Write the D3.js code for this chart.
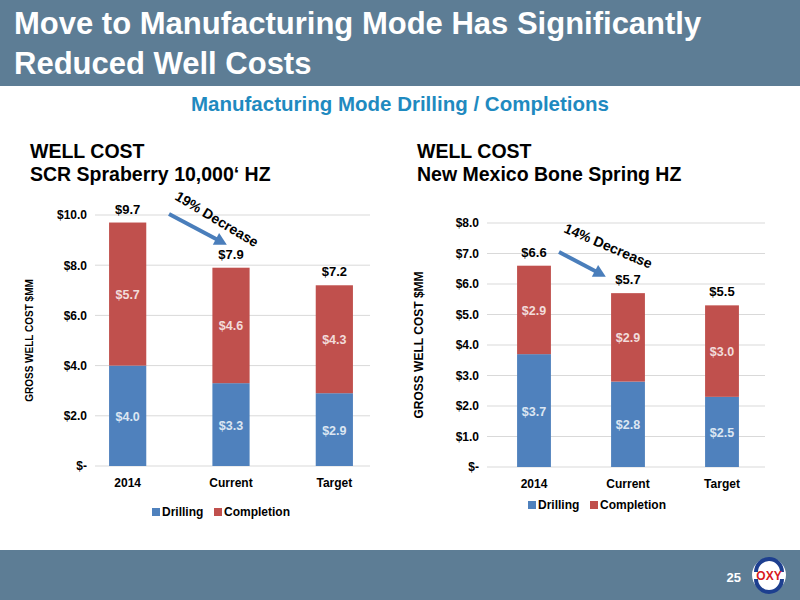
<!DOCTYPE html><html><head><meta charset="utf-8"><script src="https://cdn.jsdelivr.net/npm/d3@7"></script>
<style>body{margin:0}svg{font-family:"Liberation Sans",Arial,sans-serif}</style></head><body><svg id="c" width="800" height="600"></svg>
<script>
const categories=["2014","Current","Target"];
const leftDrilling=[4.0,3.3,2.9], leftCompletion=[5.7,4.6,4.3], leftTotals=["$9.7","$7.9","$7.2"];
const leftDrillLabels=["$4.0","$3.3","$2.9"], leftCompLabels=["$5.7","$4.6","$4.3"];
const rightDrilling=[3.7,2.8,2.3], rightCompletion=[2.9,2.9,3.0], rightTotals=["$6.6","$5.7","$5.5"];
const rightDrillLabels=["$3.7","$2.8","$2.5"], rightCompLabels=["$2.9","$2.9","$3.0"];
const leftTicks=[0,2,4,6,8,10], rightTicks=[0,1,2,3,4,5,6,7,8];
const BLUE="#4f81bd", RED="#c0504d";
const svg=d3.select("#c");
svg.append("rect").attr("width",800).attr("height",600).attr("fill","#fff");
svg.append("rect").attr("width",800).attr("height",86).attr("fill","#5d7d95");
svg.append("rect").attr("y",550).attr("width",800).attr("height",50).attr("fill","#5d7d95");
svg.append("text").attr("x",14).attr("y",34).attr("fill","#fff").attr("font-size",31).attr("font-weight","bold").text("Move to Manufacturing Mode Has Significantly");
svg.append("text").attr("x",14).attr("y",74).attr("fill","#fff").attr("font-size",31).attr("font-weight","bold").text("Reduced Well Costs");
svg.append("text").attr("x",400).attr("y",111).attr("text-anchor","middle").attr("fill","#1f8ac0").attr("font-size",20.5).attr("font-weight","bold").text("Manufacturing Mode Drilling / Completions");
svg.append("text").attr("x",741).attr("y",582).attr("fill","#fff").attr("font-size",13).attr("font-weight","bold").attr("text-anchor","end").text("25");
const lg=svg.append("g").attr("transform","translate(769,575)");
lg.append("circle").attr("r",17).attr("fill","#fff");
lg.append("path").attr("d","M-15,-3 A15,15 0 0 1 15,-3 L11,-3 A11,11 0 0 0 -11,-3Z").attr("fill","#1d3f8f");
lg.append("path").attr("d","M-15,4 A15,15 0 0 0 15,4 L11,4 A11,11 0 0 1 -11,4Z").attr("fill","#1d3f8f");
lg.append("text").attr("y",5).attr("text-anchor","middle").attr("fill","#d71920").attr("font-size",12).attr("font-weight","bold").text("OXY");

function chart(o){
  const g=svg.append("g");
  g.append("text").attr("x",o.tx).attr("y",158).attr("font-size",19.5).attr("font-weight","bold").attr("fill","#000").text("WELL COST");
  g.append("text").attr("x",o.tx).attr("y",181).attr("font-size",19.5).attr("font-weight","bold").attr("fill","#000").text(o.sub);
  const x=d3.scaleBand().domain(categories).range(o.xr).paddingInner(0.64).paddingOuter(0.32);
  const y=d3.scaleLinear().domain([0,o.max]).range(o.yr);
  g.selectAll(".gl").data(o.ticks).join("line").attr("x1",o.gx[0]).attr("x2",o.gx[1]).attr("y1",d=>y(d)).attr("y2",d=>y(d)).attr("stroke","#d9d9d9");
  const ax=g.append("g").attr("transform",`translate(${o.gx[0]},0)`).call(d3.axisLeft(y).tickValues(o.ticks).tickSize(0).tickPadding(8).tickFormat(d=>d===0?"$-":"$"+d.toFixed(1)));
  ax.select(".domain").remove();
  ax.selectAll("text").attr("font-size",12).attr("font-weight","bold").attr("fill","#000").attr("font-family","Liberation Sans,Arial");
  const xa=g.append("g").attr("transform",`translate(0,${o.yr[0]})`).call(d3.axisBottom(x).tickSize(0).tickPadding(12));
  xa.select(".domain").remove();
  xa.selectAll("text").attr("font-size",12).attr("font-weight","bold").attr("fill","#000").attr("font-family","Liberation Sans,Arial");
  g.append("text").attr("transform",`translate(${o.yl},${(o.yr[0]+o.yr[1])/2}) rotate(-90)`).attr("text-anchor","middle").attr("font-size",o.ylf).attr("font-weight","bold").text("GROSS WELL COST $MM");
  categories.forEach((c,i)=>{
    const d=o.dr[i], cp=o.cp[i], cx=x(c)+x.bandwidth()/2;
    g.append("rect").attr("x",x(c)).attr("width",x.bandwidth()).attr("y",y(d)).attr("height",y(0)-y(d)).attr("fill",BLUE);
    g.append("rect").attr("x",x(c)).attr("width",x.bandwidth()).attr("y",y(d+cp)).attr("height",y(d)-y(d+cp)).attr("fill",RED);
    g.append("text").attr("x",cx).attr("y",(y(0)+y(d))/2+5).attr("text-anchor","middle").attr("fill","#dce6f2").attr("font-size",12.5).attr("font-weight","bold").text(o.dl[i]);
    g.append("text").attr("x",cx).attr("y",(y(d)+y(d+cp))/2+5).attr("text-anchor","middle").attr("fill","#f2dcdb").attr("font-size",12.5).attr("font-weight","bold").text(o.cl[i]);
    g.append("text").attr("x",cx).attr("y",y(d+cp)-9).attr("text-anchor","middle").attr("fill","#000").attr("font-size",13).attr("font-weight","bold").text(o.tot[i]);
  });
  const L=g.append("g").attr("transform",`translate(${o.lx},${o.ly})`);
  L.append("rect").attr("width",8).attr("height",8).attr("y",-8).attr("fill",BLUE);
  L.append("text").attr("x",10).attr("font-size",12).attr("font-weight","bold").text("Drilling");
  L.append("rect").attr("x",62).attr("width",8).attr("height",8).attr("y",-8).attr("fill",RED);
  L.append("text").attr("x",72).attr("font-size",12).attr("font-weight","bold").text("Completion");
  const a=o.arrow;
  g.append("line").attr("x1",a[0]).attr("y1",a[1]).attr("x2",a[2]).attr("y2",a[3]).attr("stroke","#4a7ebb").attr("stroke-width",4);
  const ang=Math.atan2(a[3]-a[1],a[2]-a[0]);
  const hx=a[2]+Math.cos(ang)*10, hy=a[3]+Math.sin(ang)*10;
  const p=(r,t)=>[hx+Math.cos(ang+t)*r,hy+Math.sin(ang+t)*r];
  g.append("path").attr("d",`M${hx},${hy}L${p(14,Math.PI-0.5)}L${p(14,Math.PI+0.5)}Z`).attr("fill","#4a7ebb");
  g.append("text").attr("transform",`translate(${o.lab[0]},${o.lab[1]}) rotate(${o.lab[2]})`).attr("font-size",14).attr("font-weight","bold").text(o.lab[3]);
}
chart({tx:30,sub:"SCR Spraberry 10,000‘ HZ",xr:[76,386],gx:[95,370],yr:[466,215],max:10,ticks:leftTicks,dr:leftDrilling,cp:leftCompletion,dl:leftDrillLabels,cl:leftCompLabels,tot:leftTotals,yl:33,ylf:10,lx:152,ly:516,arrow:[169,214,218,240],lab:[174,199,31,"19% Decrease"]});
chart({tx:417,sub:"New Mexico Bone Spring HZ",xr:[487,769],gx:[487,765],yr:[467,223],max:8,ticks:rightTicks,dr:rightDrilling,cp:rightCompletion,dl:rightDrillLabels,cl:rightCompLabels,tot:rightTotals,yl:423,ylf:12,lx:528,ly:509,arrow:[559,252,597,272],lab:[563,232,23,"14% Decrease"]});
</script></body></html>
